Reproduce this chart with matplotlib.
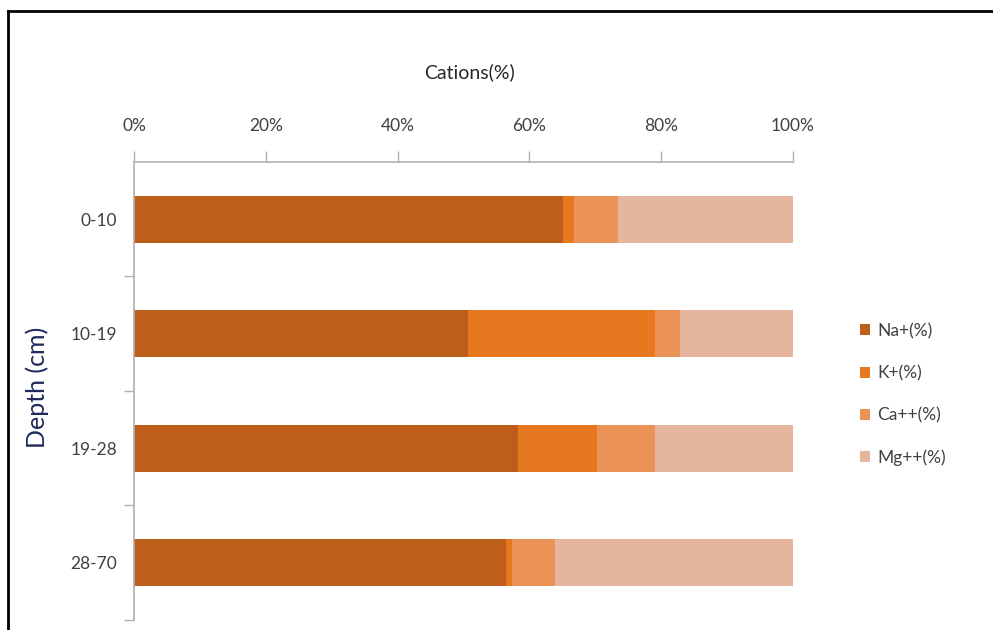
import matplotlib
matplotlib.use("Agg")
import matplotlib.pyplot as plt
import numpy as np
from matplotlib.lines import Line2D
from matplotlib.patches import Patch

# data
depths = ["0-10", "10-19", "19-28", "28-70"]
na = [65.1, 50.7, 58.3, 56.4]
k = [1.7, 28.4, 11.9, 0.9]
ca = [6.6, 3.7, 8.9, 6.6]
mg = [26.6, 17.2, 20.9, 36.1]
series_names = ["Na+(%)", "K+(%)", "Ca++(%)", "Mg++(%)"]
colors = ["#bd5e1b", "#e67820", "#eb9257", "#e6b59e"]

plt.rcParams['font.family'] = ['Lato', 'DejaVu Sans']

fig = plt.figure(figsize=(9.93, 6.3), dpi=100)
ax = fig.add_axes([0.1349, 0.0159, 0.6637, 0.727])

y = np.arange(len(depths))
left = np.zeros(len(depths))
for vals, name, c in zip([na, k, ca, mg], series_names, colors):
    ax.barh(y, vals, left=left, height=0.41, color=c, label=name)
    left += np.array(vals)

ax.set_xlim(0, 100)
ax.set_ylim(3.5, -0.5)
ax.xaxis.tick_top()
ax.set_xticks(np.arange(0, 101, 20))
ax.set_xticklabels([f"{v}%" for v in range(0, 101, 20)])
ax.set_yticks(y)
ax.set_yticklabels(depths)
ax.set_yticks(np.arange(0.5, 3.6, 1), minor=True)

ax.tick_params(axis='x', which='major', length=8, width=1, color='#b0b0b0',
               labelsize=12.5, labelcolor='#404040', pad=12)
ax.tick_params(axis='y', which='major', length=0, labelsize=12.5,
               labelcolor='#404040', pad=12)
ax.tick_params(axis='y', which='minor', length=7, width=1, color='#b0b0b0')

for s in ['right', 'bottom']:
    ax.spines[s].set_visible(False)
for s in ['top', 'left']:
    ax.spines[s].set_color('#b0b0b0')
    ax.spines[s].set_linewidth(1.2)

fig.text(0.4728, 0.886, "Cations(%)", ha='center', va='center',
         fontsize=14, color='#262626')
fig.text(0.037, 0.385, "Depth (cm)", ha='center', va='center',
         rotation=90, fontsize=18, color='#1f2a5c')

handles = [Patch(facecolor=c, edgecolor='none') for c in colors]
leg = fig.legend(handles, series_names, loc='center left',
                 bbox_to_anchor=(0.85, 0.374), frameon=False,
                 fontsize=12.5, handlelength=0.6, handleheight=0.6,
                 handletextpad=0.4, labelspacing=1.5)
for t in leg.get_texts():
    t.set_color('#404040')

# outer frame (left and top edges visible)
fig.add_artist(Line2D([0.008, 0.008], [0, 0.983], transform=fig.transFigure,
                      color='black', linewidth=2))
fig.add_artist(Line2D([0.008, 1.0], [0.983, 0.983], transform=fig.transFigure,
                      color='black', linewidth=2))

fig.savefig("out.png", dpi=100)
